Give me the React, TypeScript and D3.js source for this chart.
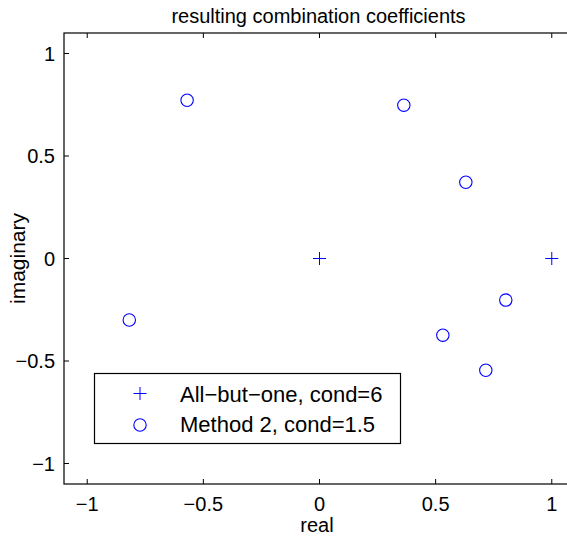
import React from "react";
import * as d3 from "d3";

const plusX = [0, 1];
const plusY = [0, 0];
const circX = [-0.57, 0.363, 0.63, -0.819, 0.531, 0.802, 0.716];
const circY = [0.772, 0.748, 0.372, -0.3, -0.374, -0.203, -0.545];
const xTicks = [-1, -0.5, 0, 0.5, 1];
const yTicks = [-1, -0.5, 0, 0.5, 1];
const legendLabels = ["All\u2212but\u2212one, cond=6", "Method 2, cond=1.5"];
const title = "resulting combination coefficients";
const xLabel = "real";
const yLabel = "imaginary";

const W = 567, H = 537;
const L = 64, R = 575, T = 33, B = 484;
const FONT = "'Liberation Sans', Arial, Helvetica, sans-serif";
const BLUE = "#0000ff";

export default function App() {
  const x = d3.scaleLinear().domain([-1.1, 1.1]).range([L, R]);
  const y = d3.scaleLinear().domain([-1.1, 1.1]).range([B, T]);
  const fmt = (v: number) => (v === 0 ? "0" : d3.format("")(v).replace("-", "\u2212"));
  const tl = 5;
  return (
    <svg width={W} height={H} style={{ position: "absolute", left: 0, top: 0, background: "#fff" }} fontFamily={FONT}>
      <rect x={0} y={0} width={W} height={H} fill="#fff" />
      {xTicks.map((t) => (
        <g key={"xt" + t}>
          <line x1={x(t)} x2={x(t)} y1={B} y2={B - tl} stroke="#000" />
          <line x1={x(t)} x2={x(t)} y1={T} y2={T + tl} stroke="#000" />
          <text x={x(t)} y={511} fontSize={20} textAnchor="middle" fill="#000">{fmt(t)}</text>
        </g>
      ))}
      {yTicks.map((t) => (
        <g key={"yt" + t}>
          <line x1={L} x2={L + tl} y1={y(t)} y2={y(t)} stroke="#000" />
          <line x1={R} x2={R - tl} y1={y(t)} y2={y(t)} stroke="#000" />
          <text x={55} y={y(t) + 7} fontSize={20} textAnchor="end" fill="#000">{fmt(t)}</text>
        </g>
      ))}
      <rect x={L} y={T} width={R - L} height={B - T} fill="none" stroke="#000" strokeWidth={1.2} />
      {plusX.map((v, i) => (
        <path key={"p" + i} d={`M${x(v) - 6.5},${y(plusY[i])}H${x(v) + 6.5}M${x(v)},${y(plusY[i]) - 6.5}V${y(plusY[i]) + 6.5}`} stroke={BLUE} strokeWidth={1} fill="none" />
      ))}
      {circX.map((v, i) => (
        <circle key={"c" + i} cx={x(v)} cy={y(circY[i])} r={6.2} stroke={BLUE} strokeWidth={1.1} fill="none" />
      ))}
      <rect x={94.5} y={373.5} width={306} height={70} fill="#fff" stroke="#000" strokeWidth={1.2} />
      <path d={`M${140 - 6.5},393.5H${140 + 6.5}M140,387V400`} stroke={BLUE} fill="none" />
      <circle cx={140} cy={425} r={6.2} stroke={BLUE} strokeWidth={1.1} fill="none" />
      <text x={180} y={401.5} fontSize={22} fill="#000">{legendLabels[0]}</text>
      <text x={180} y={432} fontSize={22} fill="#000">{legendLabels[1]}</text>
      <text x={(L + R) / 2 - 1} y={23} fontSize={20} textAnchor="middle" fill="#000">{title}</text>
      <text x={317} y={532} fontSize={20} textAnchor="middle" fill="#000">{xLabel}</text>
      <text transform={`translate(25,${(T + B) / 2}) rotate(-90)`} fontSize={21} textAnchor="middle" fill="#000">{yLabel}</text>
    </svg>
  );
}
